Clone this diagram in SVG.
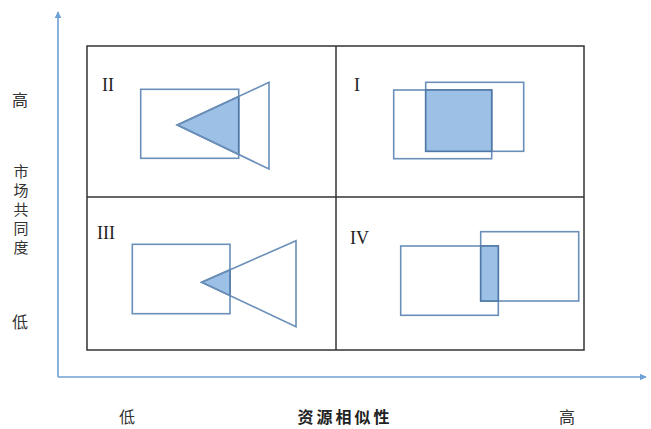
<svg xmlns="http://www.w3.org/2000/svg" width="651" height="429" viewBox="0 0 651 429">
<style>
.frame{fill:none;stroke:#333;stroke-width:1.5}
.shape{fill:none;stroke:#6a8fb8;stroke-width:1.6}
.fill{fill:#9cc0e6;stroke:#4f78a6;stroke-width:1.6}
.axis{stroke:#6fa0d6;stroke-width:1.6;fill:none}
.num{font-family:"Liberation Serif",serif;font-size:18px;fill:#222}
.lbl{font-family:"Noto Sans CJK SC",sans-serif;font-size:16px;fill:#333}
.vlbl{font-family:"Noto Sans CJK SC",sans-serif;font-size:15px;fill:#333}
.title{font-family:"Noto Sans CJK SC",sans-serif;font-size:16px;font-weight:bold;fill:#222}
</style>
<defs>
<marker id="arr" viewBox="0 0 10 10" refX="9" refY="5" markerWidth="7" markerHeight="7" orient="auto" markerUnits="userSpaceOnUse">
<path d="M0,0 L10,5 L0,10 z" fill="#6fa0d6"/>
</marker>
</defs>
<rect width="651" height="429" fill="#fff"/>
<g id="connectors">
<path class="axis" d="M58,377 L58,12" marker-end="url(#arr)"/>
<path class="axis" d="M58,377 L646,377" marker-end="url(#arr)"/>
</g>
<g id="frame">
<rect class="frame" x="87" y="46" width="497" height="304"/>
<line class="frame" x1="336" y1="46" x2="336" y2="350"/>
<line class="frame" x1="87" y1="197" x2="584" y2="197"/>
</g>
<g id="quadrant-II">
<text class="num" x="102" y="91">II</text>
<rect class="shape" x="140.7" y="89.3" width="98" height="69"/>
<polygon class="fill" points="177.3,125 238.7,96.4 238.7,154.5"/>
<polygon class="shape" points="177.3,125 269,82.3 269,169"/>
</g>
<g id="quadrant-I">
<text class="num" x="354" y="91">I</text>
<rect class="shape" x="393.7" y="90" width="98" height="68.7"/>
<rect class="shape" x="425.7" y="82.3" width="98" height="69"/>
<rect class="fill" x="425.7" y="90" width="66" height="61.3"/>
</g>
<g id="quadrant-III">
<text class="num" x="97" y="239">III</text>
<rect class="shape" x="132.3" y="244.3" width="97.7" height="69.4"/>
<polygon class="fill" points="201.7,282.3 230,269.8 230,295.6"/>
<polygon class="shape" points="201.7,282.3 296,240.7 296,326.7"/>
</g>
<g id="quadrant-IV">
<text class="num" x="350" y="244">IV</text>
<rect class="shape" x="400.7" y="246" width="97.6" height="69.3"/>
<rect class="shape" x="480.7" y="231.7" width="98" height="69.3"/>
<rect class="fill" x="480.7" y="246" width="17.6" height="55"/>
</g>
<g id="y-labels">
<text class="lbl" x="20" y="106" text-anchor="middle">高</text>
<text class="vlbl" x="13.5" y="177">市</text>
<text class="vlbl" x="13.5" y="196">场</text>
<text class="vlbl" x="13.5" y="215">共</text>
<text class="vlbl" x="13.5" y="234">同</text>
<text class="vlbl" x="13.5" y="253">度</text>
<text class="lbl" x="20" y="328" text-anchor="middle">低</text>
</g>
<g id="x-labels">
<text class="lbl" x="127" y="423" text-anchor="middle">低</text>
<text class="title" x="345" y="423" text-anchor="middle" letter-spacing="3">资源相似性</text>
<text class="lbl" x="567" y="423" text-anchor="middle">高</text>
</g>
</svg>
